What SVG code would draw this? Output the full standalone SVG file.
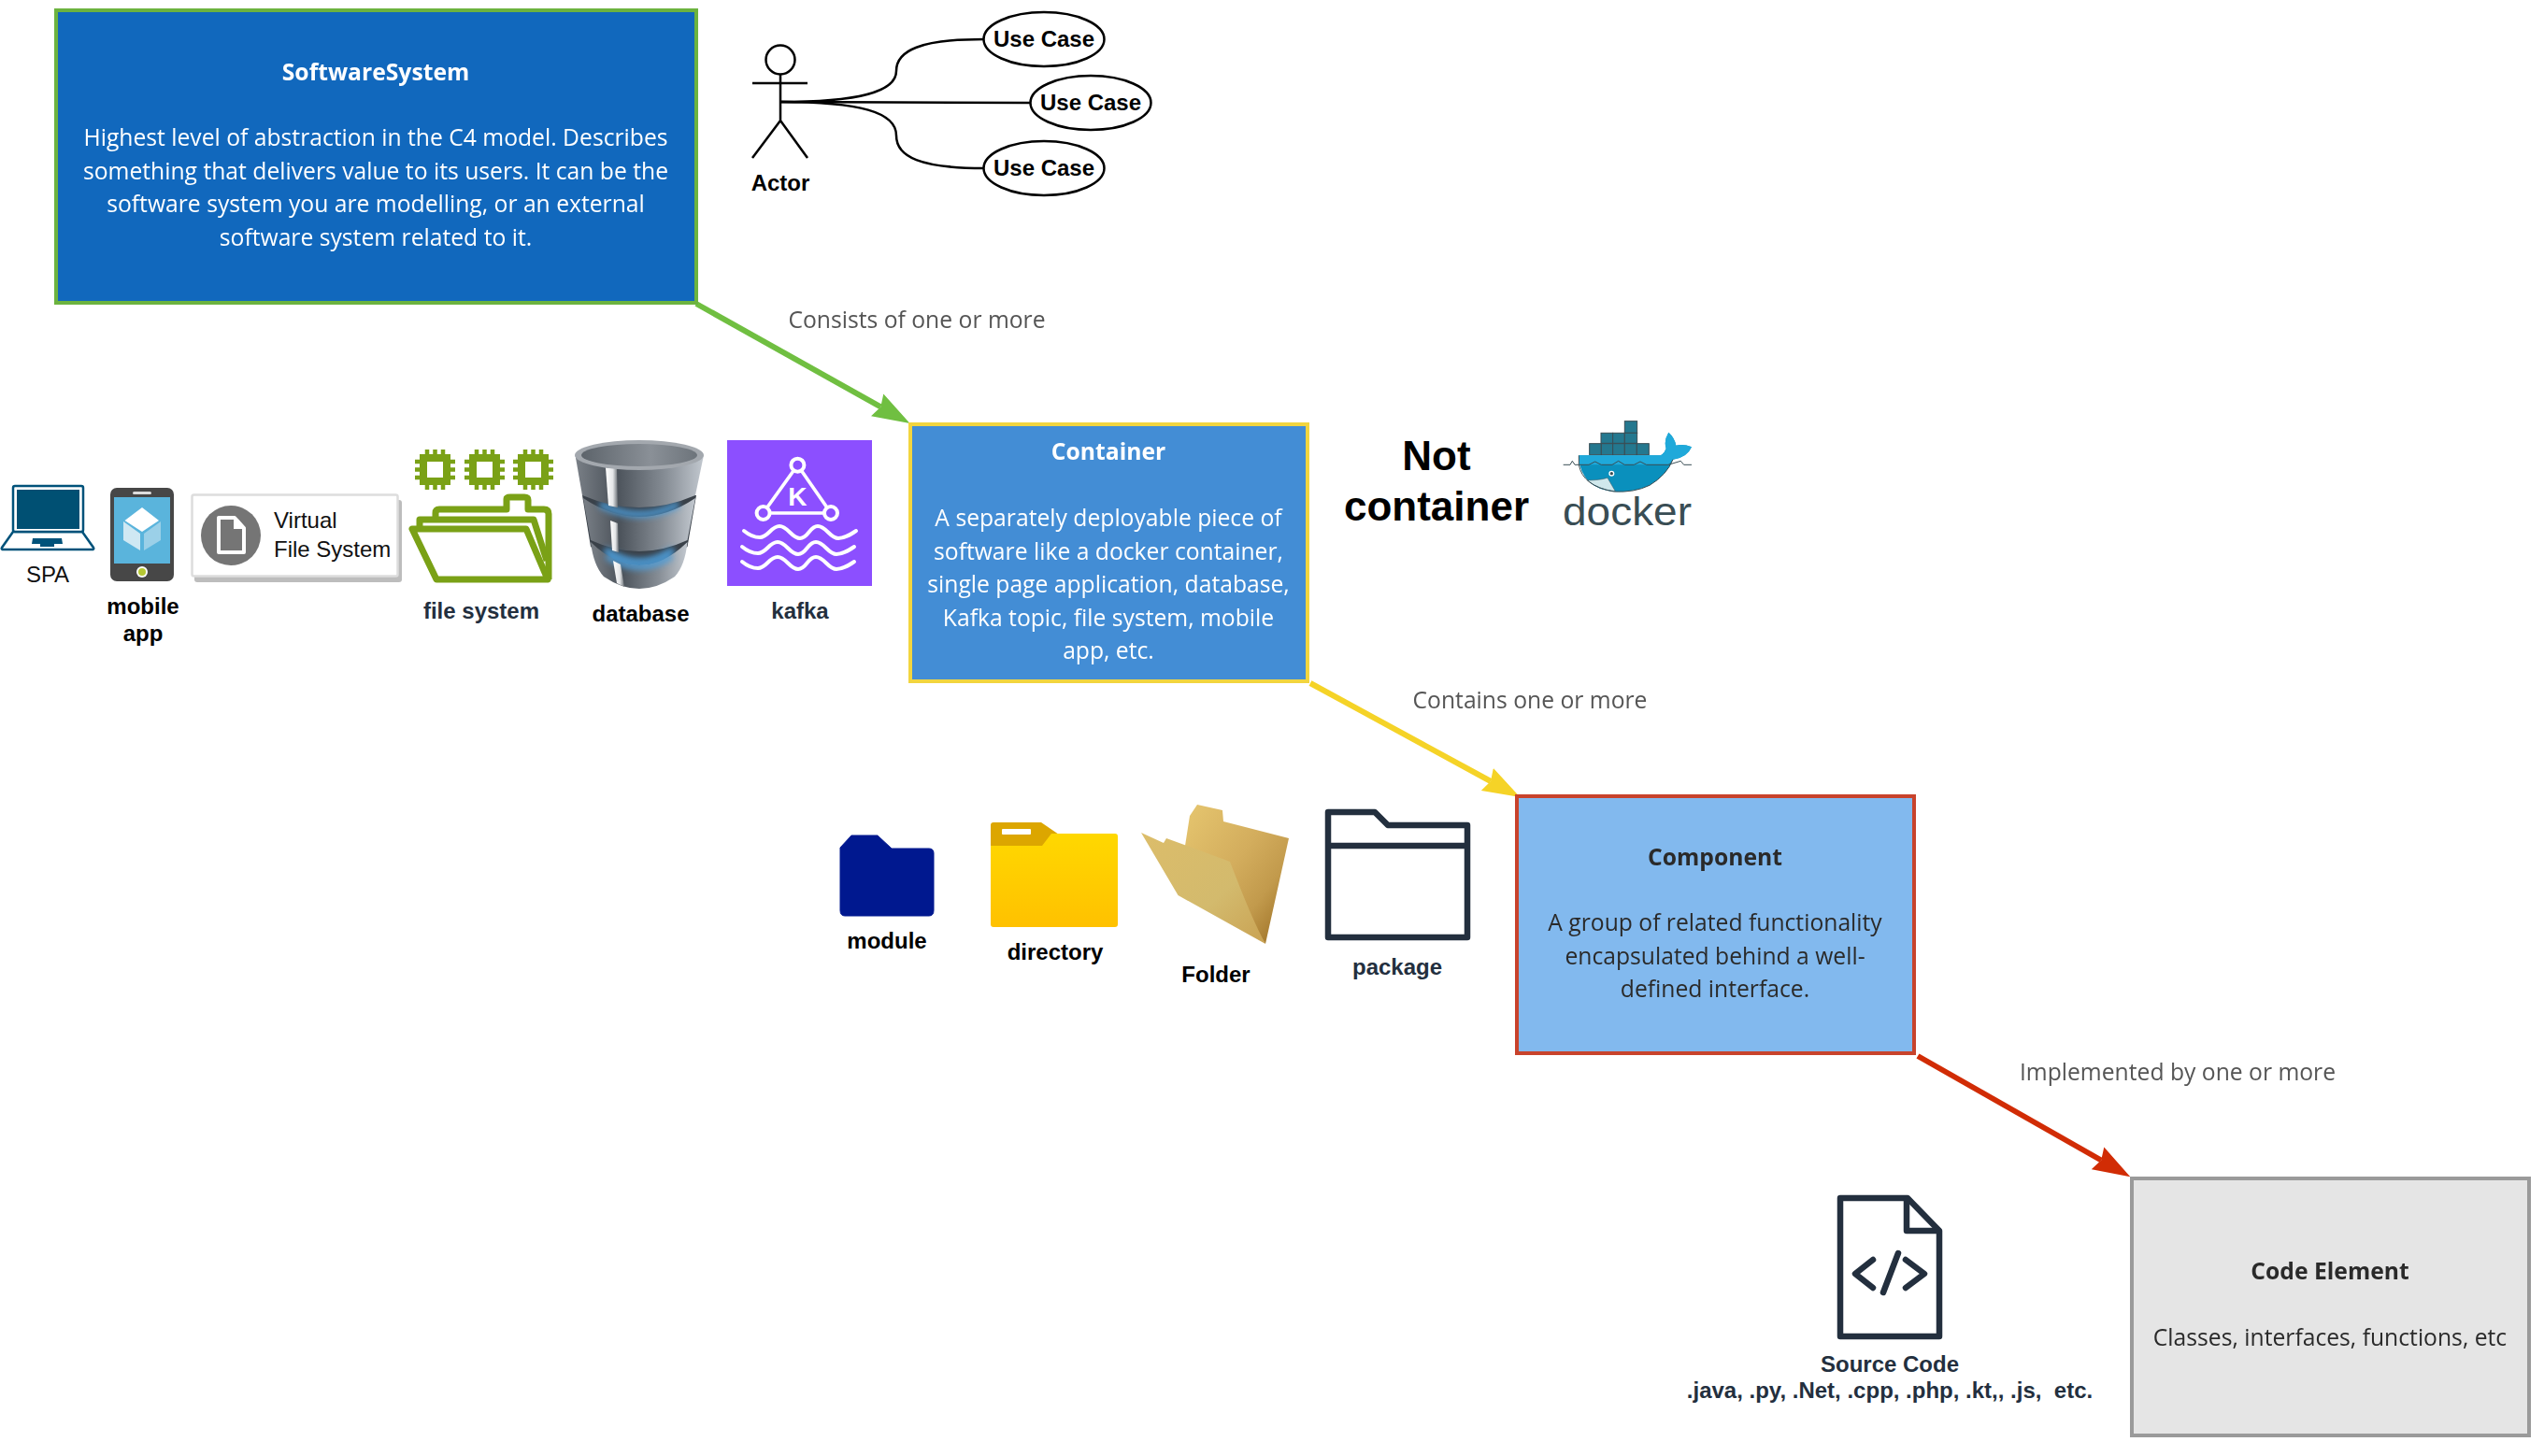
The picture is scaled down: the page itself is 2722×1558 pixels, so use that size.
<svg xmlns="http://www.w3.org/2000/svg" width="2722" height="1558" viewBox="0 0 2722 1558">
<style>
text{font-family:"Liberation Sans",Arial,sans-serif}
.os{font-family:"Open Sans","Liberation Sans",sans-serif;font-size:24.700px;text-anchor:middle;filter:url(#soft)}
.t{font-weight:700}
.w{fill:#fff}
.dk{fill:#2b2b2b}
.lbl{fill:#555}
.b{font-size:24px;font-weight:700;text-anchor:middle;fill:#000}
.n{fill:#232f3e}
.r{font-size:24px;fill:#111}
.box{stroke-width:4}
.arr{fill:none;stroke-width:6}
.thin{fill:none;stroke:#000;stroke-width:2.500}
.uc{fill:#fff;stroke:#000;stroke-width:2.500}
.fs{fill:none;stroke:#7aa116;stroke-width:7;stroke-linejoin:round}
.ic{fill:none;stroke:#232f3e;stroke-width:6.500;stroke-linejoin:round;stroke-linecap:round}
.wave{fill:none;stroke:#fff;stroke-width:4;stroke-linecap:round}
.kl{fill:none;stroke:#fff;stroke-width:3.600}
.cb{fill:#24788f;stroke:#394d54;stroke-width:3}
.gl{fill:none;stroke:#4d9fdc;stroke-width:8;stroke-linecap:round;opacity:.85;filter:url(#gb)}
</style>
<defs>
<filter id="soft" x="-5%" y="-30%" width="110%" height="160%"><feGaussianBlur stdDeviation="0.6"/></filter>
<filter id="gb" x="-20%" y="-100%" width="140%" height="300%"><feGaussianBlur stdDeviation="3.200"/></filter>
<marker id="hg" markerUnits="userSpaceOnUse" markerWidth="40" markerHeight="28" viewBox="0 0 38 26" refX="4" refY="13" orient="auto"><path d="M0 0L38 13L0 26L4 13Z" fill="#70bf41"/></marker>
<marker id="hy" markerUnits="userSpaceOnUse" markerWidth="40" markerHeight="28" viewBox="0 0 38 26" refX="4" refY="13" orient="auto"><path d="M0 0L38 13L0 26L4 13Z" fill="#f5d327"/></marker>
<marker id="hr" markerUnits="userSpaceOnUse" markerWidth="40" markerHeight="28" viewBox="0 0 38 26" refX="4" refY="13" orient="auto"><path d="M0 0L38 13L0 26L4 13Z" fill="#d12c05"/></marker>
<linearGradient id="dbg" x1="0" x2="1" y1="0" y2="0"><stop offset="0" stop-color="#7a8087"/><stop offset=".32" stop-color="#4b525a"/><stop offset=".7" stop-color="#868d95"/><stop offset="1" stop-color="#c2c8cf"/></linearGradient>
<linearGradient id="dbt" x1="0" x2="1" y1="0" y2="0"><stop offset="0" stop-color="#5d646b"/><stop offset=".6" stop-color="#8a9097"/><stop offset="1" stop-color="#6d747b"/></linearGradient>
<linearGradient id="st" x1="0" x2="1" y1="0" y2="0"><stop offset="0" stop-color="#fff"/><stop offset=".6" stop-color="#e4e6e8"/><stop offset="1" stop-color="#6a7076"/></linearGradient>
<linearGradient id="yel" x1="0" x2="0" y1="0" y2="1"><stop offset="0" stop-color="#ffd800"/><stop offset="1" stop-color="#ffc100"/></linearGradient>
<linearGradient id="tb" x1="0" x2="1" y1="0" y2="1"><stop offset="0" stop-color="#e6c66f"/><stop offset=".45" stop-color="#d3ad5d"/><stop offset=".7" stop-color="#c29a4c"/><stop offset="1" stop-color="#96691f"/></linearGradient>
<linearGradient id="tf" x1="0" x2="1" y1="0" y2="1"><stop offset="0" stop-color="#dcbd6a"/><stop offset=".6" stop-color="#d3ba6d"/><stop offset="1" stop-color="#c9a253"/></linearGradient>
<g id="chip"><path d="M13 0V43M21.500 0V43M30 0V43M0 13H43M0 21.500H43M0 30H43" stroke="#7aa116" stroke-width="4.500" fill="none"/><rect x="9" y="9" width="25" height="25" fill="#fff" stroke="#7aa116" stroke-width="8"/></g>
<path id="wv" d="M796 568C802 573 807 575 813 575C822 575 825 563 834 563C843 563 847 576 856 576C865 576 866 563 875 563C884 563 888 576 897 576C904 576 910 572 916 568" class="wave"/>
</defs>

<rect width="2722" height="1558" fill="#fff"/>

<g id="connectors">
<path class="arr" stroke="#70bf41" marker-end="url(#hg)" d="M745 325L942.300 435.400"/>
<path class="arr" stroke="#f5d327" marker-end="url(#hy)" d="M1402 731L1595 836"/>
<path class="arr" stroke="#d12c05" marker-end="url(#hr)" d="M2052 1130L2248.200 1241.500"/>
<path class="thin" d="M835 109C920 109 959 98 959 76C959 54 985 42 1053 42"/>
<path class="thin" d="M835 109L1103 110"/>
<path class="thin" d="M835 109C920 109 959 120 959 145C959 168 985 180 1053 180"/>
<text class="os lbl" x="981" y="351">Consists of one or more</text>
<text class="os lbl" x="1637" y="758">Contains one or more</text>
<text class="os lbl" x="2330" y="1156">Implemented by one or more</text>
</g>

<g id="software-system">
<rect class="box" x="60" y="11" width="685" height="313" fill="#1168bd" stroke="#6cb33f"/>
<text class="os w t" x="402" y="86">SoftwareSystem</text>
<text class="os w" x="402" y="156">Highest level of abstraction in the C4 model. Describes</text>
<text class="os w" x="402" y="192">something that delivers value to its users. It can be the</text>
<text class="os w" x="402" y="227">software system you are modelling, or an external</text>
<text class="os w" x="402" y="263">software system related to it.</text>
</g>

<g id="actor">
<ellipse cx="835" cy="64" rx="15.500" ry="15.500" class="uc"/>
<path class="thin" d="M835 80V129M805 89H864M835 129L805 169M835 129L864 169"/>
<text class="b" x="835" y="204">Actor</text>
</g>
<g id="use-case-1"><ellipse class="uc" cx="1117" cy="42" rx="64.500" ry="29"/><text class="b" x="1117" y="50">Use Case</text></g>
<g id="use-case-2"><ellipse class="uc" cx="1167" cy="110" rx="64.500" ry="29"/><text class="b" x="1167" y="118">Use Case</text></g>
<g id="use-case-3"><ellipse class="uc" cx="1117" cy="180" rx="64.500" ry="29"/><text class="b" x="1117" y="188">Use Case</text></g>

<g id="spa">
<path d="M14 569L2 586Q1 588 4 588H98Q101 588 100 586L88 569Z" fill="#fff" stroke="#00527a" stroke-width="2.500"/>
<rect x="14" y="520" width="75" height="49" rx="2" fill="#fff" stroke="#00527a" stroke-width="2.500"/>
<rect x="18" y="524" width="67" height="42" fill="#005073"/>
<path d="M35 576H66L67 582H58V585H43V582H34Z" fill="#00527a"/>
<text class="r" x="51" y="622.500" text-anchor="middle">SPA</text>
</g>

<g id="mobile-app">
<rect x="118" y="522" width="68" height="100" rx="7" fill="#474747"/>
<rect x="122" y="532" width="60" height="71" fill="#5ab4dc"/>
<rect x="142" y="526" width="20" height="3" rx="1.500" fill="#ddd"/>
<circle cx="152" cy="612" r="6" fill="#fff"/><circle cx="152" cy="612" r="4" fill="#b5c733"/>
<path d="M152 543L170 557L152 569L133.500 557Z" fill="#fff"/>
<path d="M132 558L150 571V589L132 578Z" fill="#cfe8f3"/>
<path d="M172 558L154 571V589L172 578Z" fill="#9bd0e8"/>
<text class="b" x="153" y="657">mobile</text>
<text class="b" x="153" y="686">app</text>
</g>

<g id="virtual-file-system">
<rect x="208" y="535" width="222" height="88" rx="3" fill="#bdbdbd"/>
<rect x="205.500" y="529.500" width="220" height="87" rx="2" fill="#fff" stroke="#ddd" stroke-width="2.500"/>
<circle cx="247" cy="573" r="32" fill="#757575"/>
<path d="M234 554H251L261 565V591H234Z" fill="#757575" stroke="#fff" stroke-width="4" stroke-linejoin="round"/>
<path d="M250 553V566H262" fill="#fff"/>
<text class="r" x="293" y="565">Virtual</text>
<text class="r" x="293" y="596">File System</text>
</g>

<g id="file-system">
<use href="#chip" x="444" y="481"/><use href="#chip" x="497" y="481"/><use href="#chip" x="549" y="481"/>
<path class="fs" d="M466 553V549Q466 545 470 545H542V534Q542 532 546 532H561Q565 532 565 535V545H582Q587 545 587 550V620"/>
<path class="fs" d="M449 564V556H571L585 600"/>
<path class="fs" d="M441 566H563L586 620H467Z" fill="#fff"/>
<text class="b n" x="515" y="662">file system</text>
</g>

<g id="database">
<path d="M623 530H745L735.500 585Q684 625 632 585Z" fill="#3a4149"/>
<path d="M624 533Q684 573 744 533L735.500 578Q684 602 632 578Z" fill="url(#dbg)"/>
<path class="gl" d="M645 541Q684 560 723 541"/>
<path class="gl" d="M650 590Q684 612 718 590"/>
<path d="M632 580Q684 630 735.500 580Q733 605 722 617Q684 643 646 617Q635 605 632 580Z" fill="url(#dbg)"/>
<path class="gl" d="M652 596Q684 616 716 596"/>
<path d="M656 600L664 604L668 628L660 624Z" fill="url(#st)"/>
<path d="M653 557L661 560L662 591L655 589Z" fill="url(#st)"/>
<path d="M615.500 487L623 530Q684 556 744 530L753 487Z" fill="url(#dbg)"/>
<path d="M648 500H660L661 543L651 541Z" fill="url(#st)"/>
<ellipse cx="684" cy="487" rx="69" ry="16" fill="#a3a8ae"/><ellipse cx="684" cy="487" rx="62" ry="12" fill="url(#dbt)"/>
<text class="b" x="685.500" y="665">database</text>
</g>

<g id="kafka">
<rect x="778" y="471" width="155" height="156" fill="#8c4fff"/>
<path class="kl" d="M853.400 497.700L816.600 549H889Z"/>
<circle cx="853.400" cy="497.700" r="7" fill="#8c4fff" stroke="#fff" stroke-width="4"/>
<circle cx="816.600" cy="549" r="7" fill="#8c4fff" stroke="#fff" stroke-width="4"/>
<circle cx="889" cy="549" r="7" fill="#8c4fff" stroke="#fff" stroke-width="4"/>
<text x="853.400" y="541" font-size="28" font-weight="700" fill="#fff" text-anchor="middle">K</text>
<use href="#wv"/><use href="#wv" x="-2" y="17"/><use href="#wv" x="-2" y="33"/>
<text class="b n" x="856" y="662">kafka</text>
</g>

<g id="container">
<rect class="box" x="974" y="454" width="425" height="275" fill="#438dd5" stroke="#f2d53f"/>
<text class="os w t" x="1186" y="492">Container</text>
<text class="os w" x="1186" y="563">A separately deployable piece of</text>
<text class="os w" x="1186" y="598.500">software like a docker container,</text>
<text class="os w" x="1186" y="634">single page application, database,</text>
<text class="os w" x="1186" y="669.500">Kafka topic, file system, mobile</text>
<text class="os w" x="1186" y="705">app, etc.</text>
</g>

<g id="not-container">
<text x="1537" y="503" font-size="44" font-weight="700" text-anchor="middle">Not</text>
<text x="1537" y="557" font-size="44" font-weight="700" text-anchor="middle">container</text>
</g>

<g id="docker">
<g transform="translate(1670 440) scale(.3333)">
<rect class="cb" x="205" y="32" width="40" height="38"/>
<rect class="cb" x="129" y="70" width="38" height="33"/><rect class="cb" x="167" y="70" width="38" height="33"/><rect class="cb" x="205" y="70" width="40" height="33"/>
<rect class="cb" x="92" y="104" width="38" height="36"/><rect class="cb" x="130" y="104" width="37" height="36"/><rect class="cb" x="167" y="104" width="38" height="36"/><rect class="cb" x="205" y="104" width="39" height="36"/><rect class="cb" x="244" y="104" width="39" height="36"/>
<path d="M58 142H320Q333 135 338 120Q330 95 346 68Q365 85 370 110Q395 105 420 115Q405 150 360 155Q340 205 285 238Q235 262 170 258Q80 250 60 170Z" fill="#0a90bd"/>
<path d="M58 142H320Q333 135 338 120Q330 95 346 68Q365 85 370 110Q395 105 420 115Q405 150 360 155L345 172H60Z" fill="#1fa9da"/>
<path d="M85 222Q125 222 150 214Q165 240 175 257Q120 252 85 222Z" fill="#d0e8ec" stroke="#394d54" stroke-width="1.500"/>
<circle cx="163" cy="200" r="9" fill="#fff"/><circle cx="163" cy="200" r="5" fill="#394d54"/>
<path d="M8 172H30L37 160L45 172H90L110 162L130 172H165L185 160L205 172H235L255 162L275 172H345L385 160L395 172H420" fill="none" stroke="#394d54" stroke-width="3"/>
<path d="M58 142V172Q70 240 170 258Q235 262 285 238Q340 205 360 155" fill="none" stroke="#394d54" stroke-width="3"/>
</g>
<text x="1672" y="562" font-family="Inter,'Open Sans',sans-serif" font-size="42" font-weight="300" fill="#394d54" textLength="138" lengthAdjust="spacingAndGlyphs">docker</text>
</g>

<g id="module">
<path d="M899 907L911 894H939L954 908H994Q999 908 999 913V974Q999 980 994 980H904Q899 980 899 974Z" fill="#00188f" stroke="#00188f" stroke-linejoin="round" stroke-width="1"/>
<text class="b" x="949" y="1015">module</text>
</g>

<g id="directory">
<path d="M1060 883Q1060 880 1063 880H1114L1133 893V910H1060Z" fill="#dca600"/>
<path d="M1060 905H1115L1125 892H1193Q1196 892 1196 895V989Q1196 992 1193 992H1063Q1060 992 1060 989Z" fill="url(#yel)"/>
<rect x="1072" y="887" width="31" height="6" rx="1" fill="#fff"/>
<text class="b" x="1129" y="1027">directory</text>
</g>

<g id="folder">
<path d="M1268 905L1273 873L1281 861L1308 867L1309 879L1379 897L1354 1010L1300 930Z" fill="url(#tb)"/>
<path d="M1221 891L1245 902L1248 897L1316 922Q1340 985 1354 1010L1260.500 958Z" fill="url(#tf)"/>
<text class="b" x="1301" y="1051">Folder</text>
</g>

<g id="package">
<path class="ic" d="M1421 1003V869H1471L1485 883H1570V1003ZM1421 905H1570"/>
<text class="b n" x="1495" y="1043">package</text>
</g>

<g id="component">
<rect class="box" x="1623" y="852" width="425" height="275" fill="#82b9ee" stroke="#c8432c"/>
<text class="os dk t" x="1835" y="926">Component</text>
<text class="os dk" x="1835" y="996">A group of related functionality</text>
<text class="os dk" x="1835" y="1032">encapsulated behind a well-</text>
<text class="os dk" x="1835" y="1067">defined interface.</text>
</g>

<g id="source-code">
<path class="ic" d="M1969 1282H2041L2075 1317V1430H1969Z"/>
<path class="ic" d="M2040 1283V1317H2074"/>
<path class="ic" d="M2004 1348L1985 1363L2004 1378M2039 1348L2059 1363L2039 1378M2031 1341L2015 1383"/>
<text class="b n" x="2022" y="1468">Source Code</text>
<text class="b n" x="2022" y="1496" xml:space="preserve">.java, .py, .Net, .cpp, .php, .kt,, .js,  etc.</text>
</g>

<g id="code-element">
<rect class="box" x="2281" y="1261" width="425" height="275" fill="#e5e5e5" stroke="#9a9a9a"/>
<text class="os dk t" x="2493" y="1369">Code Element</text>
<text class="os dk" x="2493" y="1440">Classes, interfaces, functions, etc</text>
</g>
</svg>
